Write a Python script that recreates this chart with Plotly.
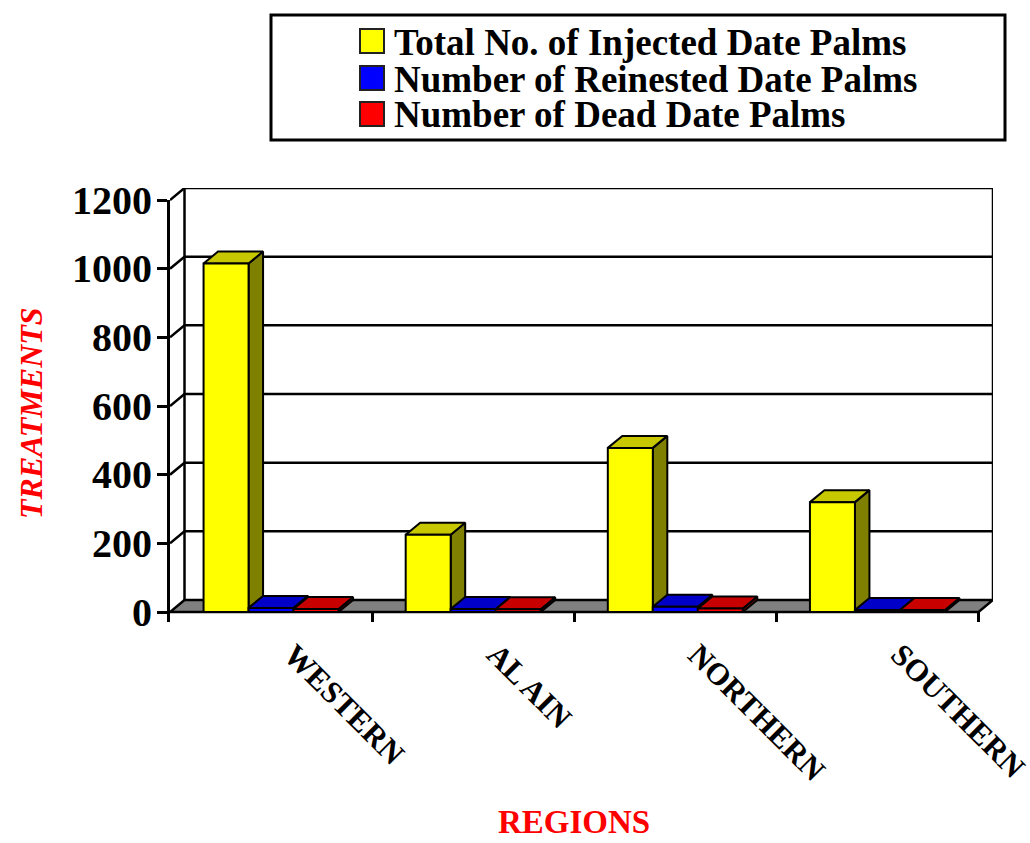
import plotly.graph_objects as go

# ---------------- data ----------------
regions = ["WESTERN", "AL AIN", "NORTHERN", "SOUTHERN"]
series_names = ["Total No. of Injected Date Palms",
                "Number of Reinested Date Palms",
                "Number of Dead Date Palms"]
injected = [1015, 225, 478, 320]
reinfested = [12, 9, 15, 6]
dead = [9, 8, 10, 6]
y_ticks = [0, 200, 400, 600, 800, 1000, 1200]

series_values = [injected, reinfested, dead]
front_colors = ["#FFFF00", "#0000FF", "#FF0000"]
top_colors = ["#C8C800", "#0000C8", "#C80000"]
side_colors = ["#808000", "#000080", "#800000"]

FONT = "Liberation Serif, Times New Roman, serif"

# ---------------- geometry (pixels -> axis units) ----------------
W, H = 1030, 843
ML, MR, MT, MB = 170, 37, 188, 221
plot_w = W - ML - MR          # 823
plot_h = H - MT - MB          # 434
k = 412 / 1200.0              # px per value unit
ybot = -10 / k                # 10 px below the floor front edge
ytop = ybot + plot_h / k
dy = 12 / k                   # depth offset (vertical)
sx = 808.5 / 4                # px per category
D = 14.5 / sx                 # depth offset (horizontal)
n = len(regions)
bw = 45 / sx                  # bar width
gap = (1 - 3 * bw) / 2


def xp(px):
    return (px - ML) / plot_w


def yp(py):
    return (H - MB - py) / plot_h


fig = go.Figure()

# floor
fig.add_trace(go.Scatter(
    x=[-0.5, n - 0.5, n - 0.5 + D, -0.5 + D, -0.5],
    y=[0, 0, dy, dy, 0], mode="lines", fill="toself",
    fillcolor="#808080", line=dict(color="black", width=2.5),
    xaxis="x", yaxis="y2", hoverinfo="skip", showlegend=False))

# back wall gridlines and side-wall diagonals
gx, gy = [], []
for v in y_ticks[1:]:
    gx += [-0.5, -0.5 + D, n - 0.5 + D, None]
    gy += [v, v + dy, v + dy, None]
gx += [-0.5 + D, -0.5 + D, None, n - 0.5 + D, n - 0.5 + D]
gy += [dy, y_ticks[-1] + dy, None, dy, y_ticks[-1] + dy]
fig.add_trace(go.Scatter(x=gx, y=gy, mode="lines",
                         line=dict(color="black", width=2.5),
                         xaxis="x", yaxis="y2", hoverinfo="skip",
                         showlegend=False))

# 3D-looking bars
for s, vals in enumerate(series_values):
    fx, fy, tx, ty, sx_, sy_ = [], [], [], [], [], []
    for i, v in enumerate(vals):
        x0 = i - 0.5 + gap + s * bw
        x1 = x0 + bw
        fx += [x0, x1, x1, x0, x0, None]
        fy += [0, 0, v, v, 0, None]
        tx += [x0, x1, x1 + D, x0 + D, x0, None]
        ty += [v, v, v + dy, v + dy, v, None]
        sx_ += [x1, x1 + D, x1 + D, x1, x1, None]
        sy_ += [0, dy, v + dy, v, 0, None]
    for xs, ys, col in [(sx_, sy_, side_colors[s]),
                        (tx, ty, top_colors[s]),
                        (fx, fy, front_colors[s])]:
        fig.add_trace(go.Scatter(
            x=xs, y=ys, mode="lines", fill="toself", fillcolor=col,
            line=dict(color="black", width=2), xaxis="x", yaxis="y2",
            hoverinfo="skip", showlegend=False, name=series_names[s]))

# ---------------- annotations ----------------
ann = []
for i, r in enumerate(regions):
    ann.append(dict(x=i + 3.5 / sx, xref="x", y=yp(634), yref="paper",
                    text=r, textangle=45, showarrow=False,
                    xanchor="left", yanchor="top",
                    font=dict(family=FONT, size=31, color="black",
                              weight="bold")))
ann.append(dict(x=xp(574), y=yp(822), xref="paper", yref="paper",
                text="REGIONS", showarrow=False,
                xanchor="center", yanchor="middle",
                font=dict(family=FONT, size=33, color="#FF0000",
                          weight="bold")))
ann.append(dict(x=xp(31), y=yp(413), xref="paper", yref="paper",
                text="TREATMENTS", textangle=-90, showarrow=False,
                xanchor="center", yanchor="middle",
                font=dict(family=FONT, size=32, color="#FF0000",
                          weight="bold", style="italic")))

# y tick labels (front axis values)
for v in y_ticks:
    ann.append(dict(x=xp(154), y=v, xref="paper", yref="y",
                    text=str(v), showarrow=False,
                    xanchor="right", yanchor="middle",
                    font=dict(family=FONT, size=40, color="black",
                              weight="bold")))

# manual legend
shapes = [dict(type="rect", xref="paper", yref="paper",
               x0=xp(271), x1=xp(1005), y0=yp(15), y1=yp(140),
               line=dict(color="black", width=3), fillcolor="white")]
row_centers = [41, 78, 114]
for s, name in enumerate(series_names):
    c = row_centers[s]
    shapes.append(dict(type="rect", xref="paper", yref="paper",
                       x0=xp(360), x1=xp(384), y0=yp(c - 12), y1=yp(c + 12),
                       line=dict(color="#222222", width=2),
                       fillcolor=front_colors[s]))
    ann.append(dict(x=xp(392), y=yp(c + 1), xref="paper", yref="paper",
                    text=name, showarrow=False, xanchor="left",
                    yanchor="middle",
                    font=dict(family=FONT, size=37, color="black",
                              weight="bold")))

fig.update_layout(
    width=W, height=H,
    margin=dict(l=ML, r=MR, t=MT, b=MB, pad=0),
    paper_bgcolor="white", plot_bgcolor="rgba(0,0,0,0)",
    showlegend=False,
    xaxis=dict(range=[-0.5, n - 0.5 + D], anchor="y",
               tickvals=[i - 0.5 for i in range(n + 1)],
               showticklabels=False, ticks="inside", ticklen=10,
               tickwidth=2.5, tickcolor="black",
               showgrid=False, zeroline=False, showline=False,
               fixedrange=True),
    yaxis=dict(domain=[0, (H - MB - 200) / plot_h], range=[ybot, 1200],
               anchor="x", tickvals=y_ticks, showticklabels=False,
               ticks="outside", ticklen=10, tickwidth=2.5,
               tickcolor="black", showline=True, linecolor="black",
               linewidth=2.5, showgrid=False, zeroline=False,
               fixedrange=True),
    yaxis2=dict(domain=[0, 1], range=[ybot, ytop], anchor="x",
                visible=False, showgrid=False, zeroline=False,
                fixedrange=True),
    annotations=ann, shapes=shapes,
)

fig.write_html("out.html",
               config={"displayModeBar": False},
               post_script="document.body.style.margin='0px';")
